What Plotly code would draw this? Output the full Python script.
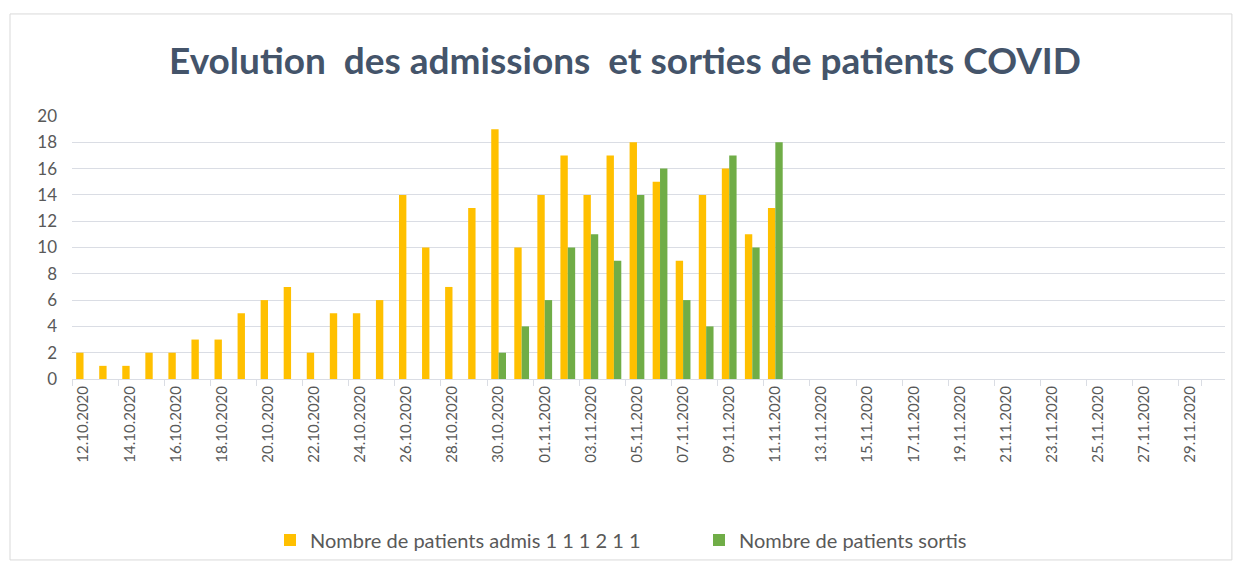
import datetime as dt
import plotly.graph_objects as go

start = dt.date(2020, 10, 12)
dates = [(start + dt.timedelta(days=i)).strftime("%d.%m.%Y") for i in range(50)]

admis = [2, 1, 1, 2, 2, 3, 3, 5, 6, 7, 2, 5, 5, 6, 14, 10, 7, 13, 19, 10,
         14, 17, 14, 17, 18, 15, 9, 14, 16, 11, 13]
sortis = [None] * 18 + [2, 4, 6, 10, 11, 9, 14, 16, 6, 4, 17, 10, 18]

admis_full = admis + [None] * (50 - len(admis))
sortis_full = sortis + [None] * (50 - len(sortis))

tick_labels = dates[::2]

fig = go.Figure()
fig.add_trace(go.Bar(x=dates, y=admis_full, name="Nombre de patients admis 1 1 1 2 1 1",
                     marker_color="#FFC000", marker_line_width=0))
fig.add_trace(go.Bar(x=dates, y=sortis_full, name="Nombre de patients sortis",
                     marker_color="#70AD47", marker_line_width=0))

W, H = 1234, 559
grid = "#DADDE4"
fig.update_layout(
    width=W, height=H,
    paper_bgcolor="white", plot_bgcolor="white",
    margin=dict(l=64, r=17, t=108, b=188, autoexpand=False),
    barmode="group", bargap=0.36, bargroupgap=0,
    title=dict(text="<b>Evolution  des admissions  et sorties de patients COVID</b>",
               x=0.5, xanchor="center", y=0.905, yanchor="middle",
               font=dict(family="Lato, Open Sans, sans-serif", size=37, color="#44546A")),
    font=dict(family="Lato, Open Sans, sans-serif", color="#595959"),
    legend=dict(orientation="h", x=(270 - 72) / 1153, xanchor="left", y=-0.612, yanchor="middle",
                font=dict(size=20, color="#595959"), tracegroupgap=0,
                bgcolor="rgba(0,0,0,0)",
                entrywidth=428 - 44, entrywidthmode="pixels", itemwidth=30),
    showlegend=True,
)
fig.update_xaxes(type="category", categoryorder="array", categoryarray=dates,
                 tickmode="array", tickvals=tick_labels, ticktext=tick_labels,
                 tickangle=-90, tickson="boundaries", ticks="outside", ticklen=6,
                 tickcolor=grid, showline=True, linecolor=grid, automargin=False,
                 showgrid=False, tickfont=dict(size=15, color="#595959"))
fig.update_yaxes(range=[0, 20], dtick=2, showgrid=True, gridcolor=grid, gridwidth=1,
                 zeroline=False, showline=False, ticks="", ticklabelstandoff=14,
                 automargin=False, tickfont=dict(size=17, color="#595959"))

fig.add_shape(type="rect", xref="paper", yref="paper",
              x0=-62 / 1153, x1=1.006, y0=-0.688, y1=1.388,
              line=dict(color="#D9D9D9", width=1), fillcolor="rgba(0,0,0,0)", layer="below")

fig.write_html("out.html")
